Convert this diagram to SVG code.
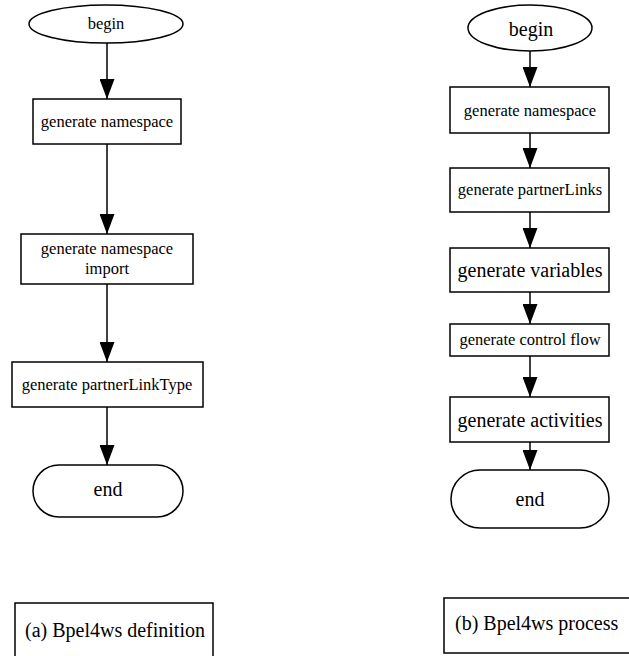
<svg xmlns="http://www.w3.org/2000/svg" width="629" height="656" viewBox="0 0 629 656">
<defs>
<marker id="ah" markerUnits="userSpaceOnUse" markerWidth="20" markerHeight="15" refX="20" refY="7.5" orient="auto" viewBox="0 0 20 15">
<path d="M0,0 L20,7.5 L0,15 Z" fill="#000"/>
</marker>
</defs>
<style>
.shape{fill:#fff;stroke:#000;stroke-width:1.5}
.t{font-family:"Liberation Serif","Times New Roman",serif;fill:#000;text-anchor:middle}
.s{font-size:16.5px}
.l{font-size:20px}
.edge{stroke:#000;stroke-width:1.5;fill:none;marker-end:url(#ah)}
</style>
<rect width="629" height="656" fill="#fff"/>
<g id="connectors">
<line class="edge" x1="107" y1="43" x2="107" y2="99"/>
<line class="edge" x1="107" y1="144" x2="107" y2="234"/>
<line class="edge" x1="107" y1="284" x2="107" y2="362"/>
<line class="edge" x1="107" y1="407" x2="107" y2="465"/>
<line class="edge" x1="530" y1="51" x2="530" y2="87"/>
<line class="edge" x1="530" y1="133" x2="530" y2="168"/>
<line class="edge" x1="530" y1="212" x2="530" y2="248"/>
<line class="edge" x1="530" y1="292" x2="530" y2="324"/>
<line class="edge" x1="530" y1="356" x2="530" y2="397"/>
<line class="edge" x1="530" y1="442" x2="530" y2="470"/>
</g>
<g id="a-begin">
<ellipse class="shape" cx="106" cy="24" rx="77" ry="19"/>
<text class="t s" x="106" y="29">begin</text>
</g>
<g id="a-namespace">
<rect class="shape" x="33" y="99" width="148" height="45"/>
<text class="t s" x="107" y="127">generate namespace</text>
</g>
<g id="a-import">
<rect class="shape" x="21" y="234" width="172" height="50"/>
<text class="t s" x="107" y="254">generate namespace</text>
<text class="t s" x="107" y="274">import</text>
</g>
<g id="a-plt">
<rect class="shape" x="12" y="362" width="191" height="45"/>
<text class="t s" x="107" y="390">generate partnerLinkType</text>
</g>
<g id="a-end">
<rect class="shape" x="33" y="465" width="150" height="52" rx="26" ry="26"/>
<text class="t l" x="108" y="496">end</text>
</g>
<g id="b-begin">
<ellipse class="shape" cx="530" cy="28" rx="62" ry="23"/>
<text class="t l" x="531" y="36">begin</text>
</g>
<g id="b-namespace">
<rect class="shape" x="450" y="87" width="159" height="46"/>
<text class="t s" x="530" y="116">generate namespace</text>
</g>
<g id="b-partnerlinks">
<rect class="shape" x="450" y="168" width="159" height="44"/>
<text class="t s" x="530" y="195">generate partnerLinks</text>
</g>
<g id="b-variables">
<rect class="shape" x="450" y="248" width="159" height="44"/>
<text class="t l" x="530" y="277">generate variables</text>
</g>
<g id="b-control">
<rect class="shape" x="450" y="324" width="159" height="32"/>
<text class="t s" x="530" y="345">generate control flow</text>
</g>
<g id="b-activities">
<rect class="shape" x="450" y="397" width="159" height="45"/>
<text class="t l" x="530" y="427">generate activities</text>
</g>
<g id="b-end">
<rect class="shape" x="451" y="470" width="158" height="58" rx="29" ry="29"/>
<text class="t l" x="530" y="506">end</text>
</g>
<g id="caption-a">
<rect class="shape" x="15" y="603" width="198" height="60"/>
<text class="t l" x="25" y="637" style="text-anchor:start">(a) Bpel4ws definition</text>
</g>
<g id="caption-b">
<rect class="shape" x="444" y="598" width="200" height="55"/>
<text class="t l" x="455" y="630" style="text-anchor:start">(b) Bpel4ws process</text>
</g>
</svg>
